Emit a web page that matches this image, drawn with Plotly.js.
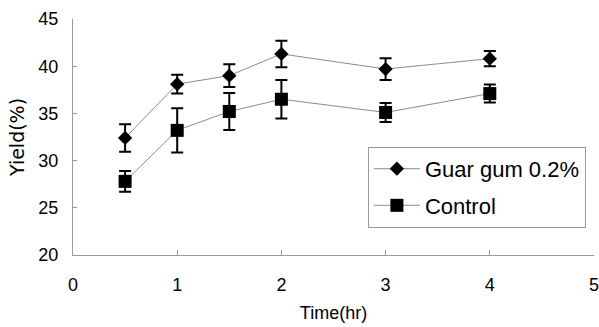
<!DOCTYPE html>
<html>
<head>
<meta charset="utf-8">
<script src="https://cdn.plot.ly/plotly-3.0.1.min.js"></script>
<style>html,body{margin:0;padding:0;background:#fff;}#chart{width:599px;height:327px;}</style>
</head>
<body>
<div id="chart"></div>
<script>
const timeHr = [0.5, 1, 1.5, 2, 3, 4];
const guarGum = [32.4, 38.1, 39.0, 41.3, 39.7, 40.8];
const guarGumErr = [1.45, 1.0, 1.2, 1.4, 1.15, 0.8];
const control = [27.8, 33.2, 35.2, 36.5, 35.1, 37.1];
const controlErr = [1.1, 2.35, 1.95, 2.05, 1.0, 0.95];
const seriesNames = ["Guar gum 0.2%", "Control"];
const xTicks = [0, 1, 2, 3, 4, 5];
const yTicks = [20, 25, 30, 35, 40, 45];

const fontFam = "Liberation Sans, Arial, sans-serif";

const traces = [
  {
    x: timeHr, y: guarGum, name: seriesNames[0], type: "scatter", mode: "lines+markers",
    legendgroup: "g1",
    line: {color: "#8c8c8c", width: 1},
    marker: {symbol: "diamond", size: 11, color: "#000"},
    error_y: {type: "data", array: guarGumErr, visible: true, color: "#000", thickness: 2, width: 6}
  },
  {
    x: timeHr, y: control, name: seriesNames[1], type: "scatter", mode: "lines+markers",
    legendgroup: "g2",
    line: {color: "#8c8c8c", width: 1},
    marker: {symbol: "square", size: 13, color: "#000"},
    error_y: {type: "data", array: controlErr, visible: true, color: "#000", thickness: 2, width: 6}
  }
];

const layout = {
  width: 599, height: 327,
  margin: {l: 73, r: 5, t: 19, b: 72},
  paper_bgcolor: "#fff", plot_bgcolor: "#fff",
  font: {family: fontFam, color: "#000", size: 18},
  showlegend: true,
  legend: {
    x: 0.566, y: 0.458, xanchor: "left", yanchor: "top",
    bgcolor: "#fff", bordercolor: "#999", borderwidth: 1,
    font: {size: 22, family: fontFam}, traceorder: "grouped", tracegroupgap: 5, itemwidth: 46
  },
  xaxis: {
    range: [0, 5], tickvals: xTicks, ticktext: xTicks.map(String),
    showgrid: false, zeroline: false, showline: true, linecolor: "#999", linewidth: 1,
    ticks: "inside", ticklen: 5, tickcolor: "#999", ticklabelstandoff: 13,
    ticklabeloverflow: "allow",
    tickfont: {size: 18},
    title: {text: "Time(hr)", font: {size: 18}, standoff: 12}
  },
  yaxis: {
    range: [20, 45], tickvals: yTicks, ticktext: yTicks.map(String),
    showgrid: false, zeroline: false, showline: true, linecolor: "#999", linewidth: 1,
    ticks: "inside", ticklen: 4, tickcolor: "#999", ticklabelstandoff: 10,
    tickfont: {size: 18},
    title: {text: "Yield(%)", font: {size: 19, family: "DejaVu Sans, sans-serif"}, standoff: 8}
  }
};

Plotly.newPlot("chart", traces, layout, {displayModeBar: false, staticPlot: true});
</script>
</body>
</html>
